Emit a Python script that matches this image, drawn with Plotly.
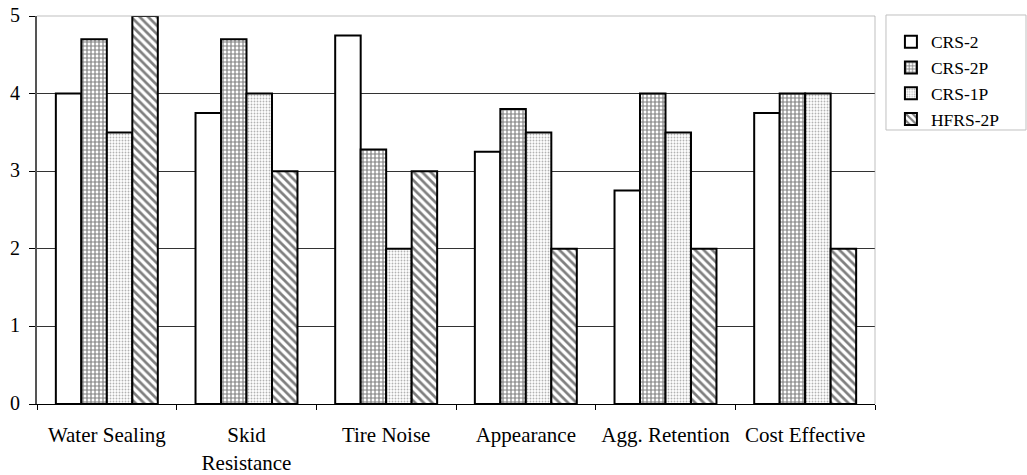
import plotly.graph_objects as go

categories = ["Water Sealing", "Skid<br>Resistance", "Tire Noise", "Appearance",
              "Agg. Retention", "Cost Effective"]
series_names = ["CRS-2", "CRS-2P", "CRS-1P", "HFRS-2P"]
crs2 = [4.0, 3.75, 4.75, 3.25, 2.75, 3.75]
crs2p = [4.7, 4.7, 3.28, 3.8, 4.0, 4.0]
crs1p = [3.5, 4.0, 2.0, 3.5, 3.5, 4.0]
hfrs2p = [5.0, 3.0, 3.0, 2.0, 2.0, 2.0]
y_ticks = [0, 1, 2, 3, 4, 5]

_FONT = "Liberation Serif, Times New Roman, serif"
_PATTERNS = ["", "+", ".", "\\"]

fig = go.Figure()
for name, vals, shape in zip(series_names, [crs2, crs2p, crs1p, hfrs2p], _PATTERNS):
    pat = dict(shape=shape, fgcolor="black", bgcolor="white", size=4, solidity=0.5)
    if shape == ".":
        pat.update(size=3, solidity=0.3, fgcolor="#666")
    if shape == "\\":
        pat.update(size=6, solidity=0.45)
    fig.add_trace(go.Bar(x=categories, y=vals, name=name,
                         marker=dict(color="white", pattern=pat,
                                     line=dict(color="black", width=2))))

fig.update_layout(
    template="simple_white",
    barmode="group", bargap=0.27, bargroupgap=0,
    plot_bgcolor="white", paper_bgcolor="white",
    font=dict(family=_FONT, size=21, color="black"),
    margin=dict(l=37, r=152, t=16, b=71, autoexpand=False),
    width=1027, height=475,
    showlegend=True,
    legend=dict(x=1.019, y=0.98, xanchor="left", yanchor="top",
                borderwidth=0, bgcolor="rgba(0,0,0,0)",
                font=dict(family=_FONT, size=17.5), itemwidth=30,
                tracegroupgap=0),
    xaxis=dict(showline=True, linecolor="black", linewidth=1,
               ticks="outside", tickson="boundaries", ticklen=5,
               tickcolor="black", showgrid=False, mirror=False,
               ticklabelstandoff=12, automargin=False),
    yaxis=dict(range=[0, 5], tickvals=y_ticks, showline=True, linecolor="#555",
               linewidth=2, ticks="outside", ticklen=6, tickcolor="black",
               showgrid=True, gridcolor="#333", gridwidth=1, zeroline=False,
               tickfont=dict(size=20), ticklabelstandoff=5, ticklabelshift=-1,
               ticklabeloverflow="allow", automargin=False),
)
# plot-area border on top and right, gray like the original
fig.add_shape(type="line", xref="paper", yref="paper", x0=0, x1=1, y0=1, y1=1,
              line=dict(color="#999", width=2))
fig.add_shape(type="line", xref="paper", yref="paper", x0=1, x1=1, y0=0, y1=1,
              line=dict(color="#999", width=2))
# legend frame, wider than plotly's own box
fig.add_shape(type="rect", xref="paper", yref="paper",
              x0=1.0131, x1=1.1802, y0=0.7062, y1=1.0026,
              line=dict(color="#333", width=1), fillcolor="rgba(0,0,0,0)")

# drop the default 8px body margin so the figure sits flush in the window
fig.write_html("out.html", config={"displayModeBar": False},
               post_script="document.body.style.margin='0';")
